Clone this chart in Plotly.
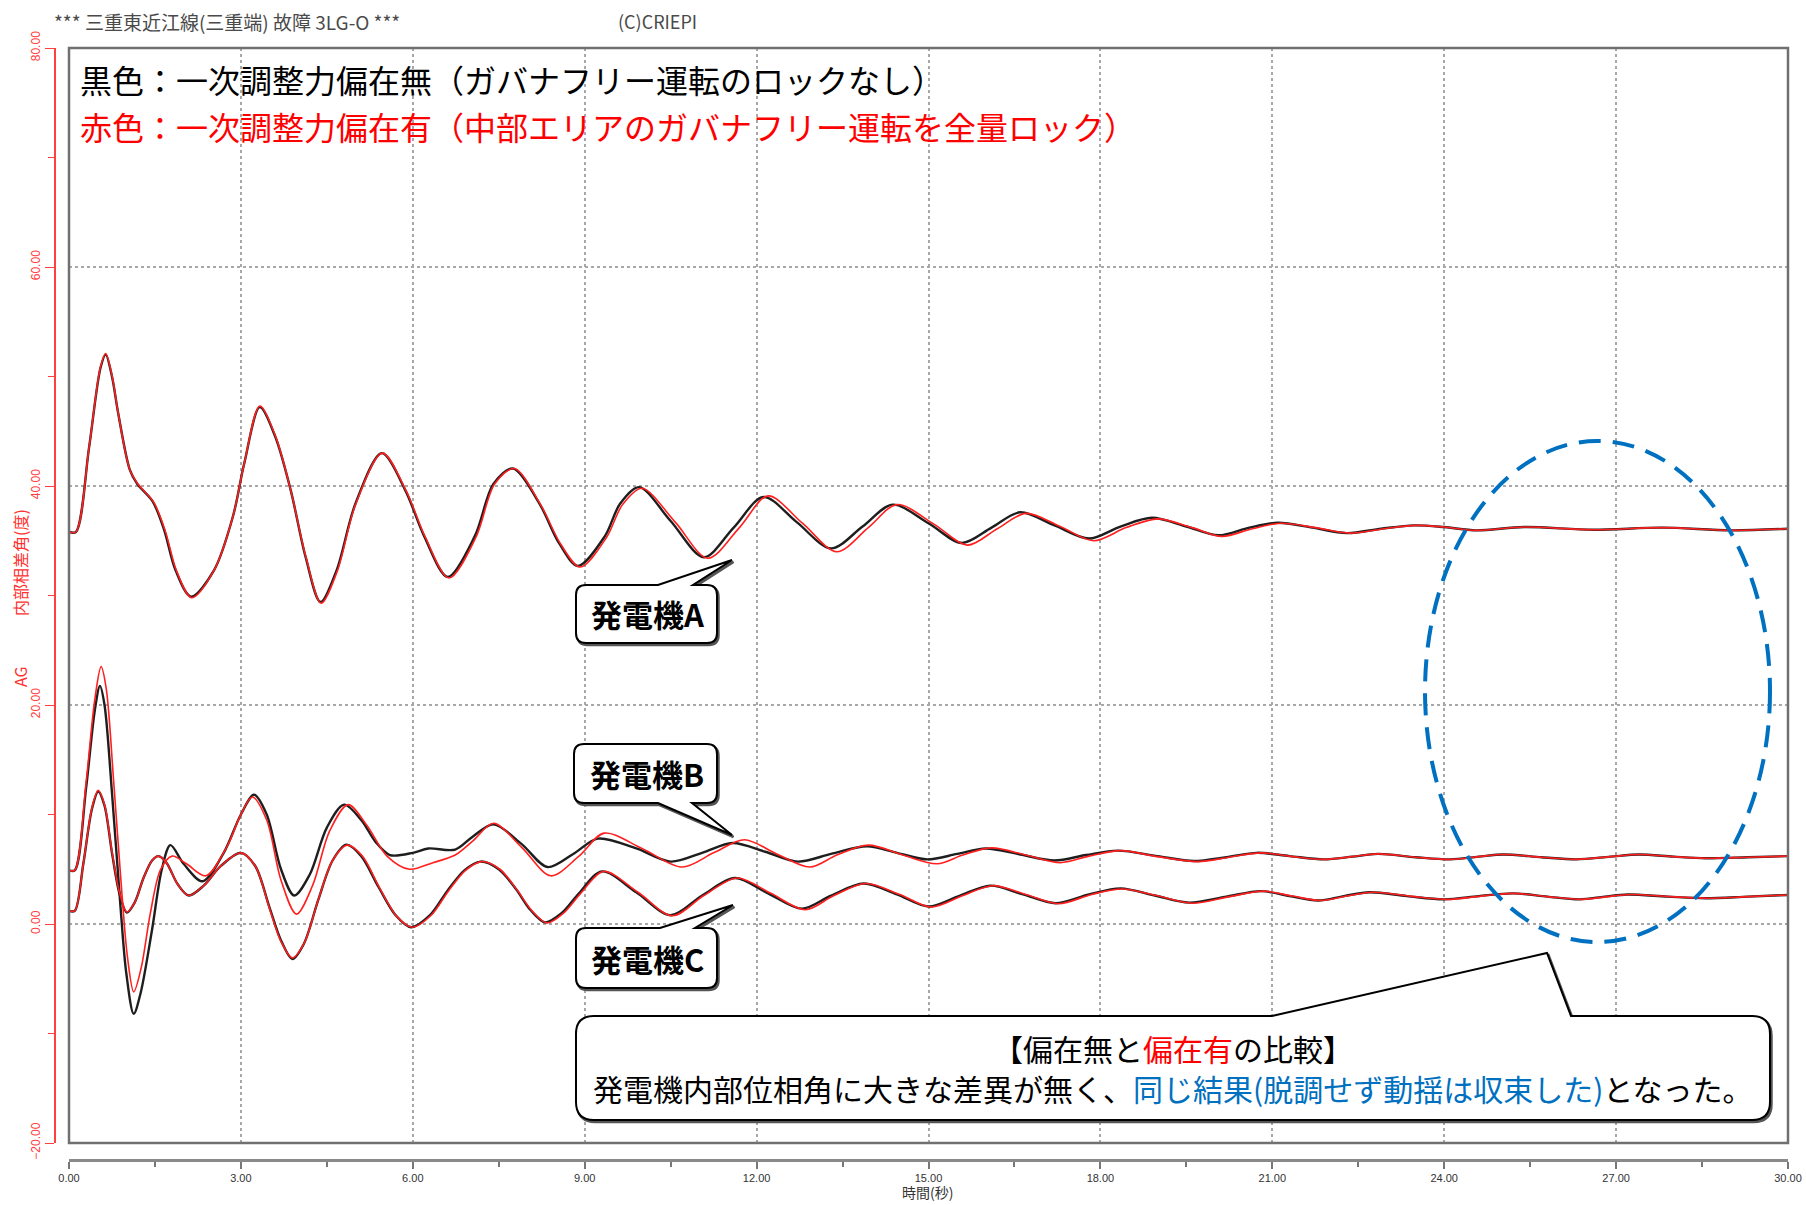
import plotly.graph_objects as go

# ---------------- data ----------------
# Generator A (black: no bias / red: with bias)
tA_black = [0, 0.12, 0.35, 0.55, 0.64, 0.75, 0.86, 1.06, 1.19, 1.46, 1.66, 1.86, 2.13, 2.53, 2.86, 3.06,
            3.33, 3.6, 3.87, 4.13, 4.39, 4.67, 5.0, 5.46, 5.87, 6.2, 6.61, 7.08, 7.41, 7.75, 8.21, 8.55,
            8.88, 9.35, 9.62, 9.95, 10.5, 11.08, 11.6, 12.12, 12.7, 13.3, 13.85, 14.37, 15.0, 15.58,
            16.1, 16.6, 17.2, 17.8, 18.35, 18.9, 19.5, 20.06, 20.6, 21.1, 21.7, 22.3, 22.9, 23.47, 24.0,
            24.56, 25.4, 26.6, 27.8, 29.0, 30.0]
vA_black = [35.8, 35.8, 43.5, 50.8, 52.0, 50.0, 46.6, 41.5, 40.2, 38.6, 36.0, 32.3, 29.9, 32.3, 37.2, 42.1,
            47.2, 44.5, 39.6, 33.5, 29.4, 32.3, 38.4, 43.0, 39.6, 35.4, 31.7, 35.4, 40.2, 41.6, 38.4, 34.8,
            32.7, 35.4, 38.4, 39.9, 36.8, 33.5, 36.2, 39.0, 36.7, 34.3, 36.3, 38.3, 36.6, 34.8,
            36.2, 37.6, 36.4, 35.2, 36.3, 37.1, 36.3, 35.5, 36.2, 36.65, 36.2, 35.7, 36.1, 36.4, 36.25,
            35.95, 36.25, 36.0, 36.2, 35.95, 36.1]

tA_red = [0, 0.12, 0.35, 0.55, 0.64, 0.75, 0.86, 1.06, 1.2, 1.48, 1.68, 1.88, 2.14, 2.53, 2.86, 3.06,
          3.33, 3.6, 3.87, 4.14, 4.4, 4.68, 5.0, 5.47, 5.88, 6.22, 6.63, 7.1, 7.43, 7.77, 8.23, 8.58,
          8.92, 9.38, 9.66, 10.0, 10.58, 11.15, 11.7, 12.2, 12.8, 13.4, 13.95, 14.45, 15.1, 15.68,
          16.2, 16.7, 17.3, 17.88, 18.45, 19.0, 19.6, 20.12, 20.65, 21.15, 21.75, 22.35, 22.95, 23.5, 24.0,
          24.56, 25.4, 26.6, 27.8, 29.0, 30.0]
vA_red = [35.8, 35.8, 43.5, 50.9, 52.1, 50.1, 46.6, 41.5, 40.2, 38.5, 35.9, 32.2, 29.8, 32.3, 37.2, 42.1,
          47.3, 44.6, 39.6, 33.4, 29.3, 32.2, 38.3, 43.0, 39.6, 35.3, 31.6, 35.3, 40.2, 41.6, 38.3, 34.7,
          32.6, 35.3, 38.3, 39.8, 36.7, 33.4, 36.2, 39.1, 36.6, 34.0, 36.2, 38.3, 36.5, 34.6,
          36.1, 37.5, 36.3, 35.0, 36.2, 37.0, 36.2, 35.4, 36.1, 36.6, 36.2, 35.7, 36.1, 36.4, 36.25,
          35.95, 36.25, 36.0, 36.2, 35.95, 36.1]

# Generator B
tB_black = [0, 0.1, 0.3, 0.45, 0.54, 0.62, 0.75, 0.9, 1.0, 1.13, 1.25, 1.45, 1.62, 1.77, 2.0, 2.33, 2.7,
            3.0, 3.23, 3.45, 3.7, 3.93, 4.2, 4.5, 4.8, 5.1, 5.35, 5.6, 6.0, 6.27, 6.74, 7.05, 7.41, 7.9,
            8.35, 8.8, 9.23, 9.9, 10.5, 11.05, 11.58, 12.15, 12.72, 13.3, 13.93, 14.45, 14.98, 15.5, 16.0,
            16.6, 17.2, 17.75, 18.3, 19.0, 19.63, 20.2, 20.73, 21.3, 21.9, 22.4, 22.84, 23.5, 24.1, 24.6,
            25.03, 25.7, 26.3, 26.9, 27.4, 28.0, 28.56, 29.3, 30.0]
vB_black = [4.9, 4.9, 12.5, 19.5, 21.75, 20.0, 12.0, 1.5, -4.5, -8.2, -6.3, -0.5, 5.0, 7.2, 5.5, 3.9, 6.5,
            10.0, 11.8, 10.0, 5.0, 2.6, 4.5, 8.8, 10.9, 9.5, 7.5, 6.3, 6.5, 6.9, 6.8, 8.0, 9.1, 7.3,
            5.2, 6.4, 7.8, 6.9, 5.7, 6.5, 7.4, 6.6, 5.7, 6.4, 7.1, 6.5, 5.9, 6.4, 6.9,
            6.35, 5.8, 6.3, 6.7, 6.2, 5.75, 6.1, 6.5, 6.2, 5.9, 6.15, 6.4, 6.1, 5.9, 6.15,
            6.35, 6.1, 5.9, 6.15, 6.35, 6.15, 6.0, 6.1, 6.2]

tB_red = [0, 0.1, 0.3, 0.45, 0.56, 0.65, 0.78, 0.92, 1.02, 1.13, 1.26, 1.42, 1.6, 1.8, 2.05, 2.39, 2.75,
          3.0, 3.2, 3.45, 3.7, 3.97, 4.25, 4.55, 4.87, 5.2, 5.55, 5.94, 6.35, 6.74, 7.05, 7.41, 7.9,
          8.41, 8.9, 9.34, 10.0, 10.7, 11.25, 11.79, 12.35, 12.93, 13.4, 13.95, 14.55, 15.15, 15.6, 16.1,
          16.7, 17.3, 17.8, 18.35, 19.0, 19.7, 20.25, 20.8, 21.3, 21.9, 22.4, 22.84, 23.5, 24.1, 24.6,
          25.03, 25.7, 26.3, 26.9, 27.4, 28.0, 28.56, 29.3, 30.0]
vB_red = [4.9, 4.9, 13.0, 20.5, 23.5, 21.5, 13.0, 3.0, -3.0, -6.2, -4.0, 1.0, 5.0, 6.2, 5.5, 4.4, 7.0,
          10.0, 11.6, 9.5, 4.0, 0.9, 3.5, 8.5, 10.9, 9.0, 6.2, 5.0, 5.6, 6.3, 7.6, 9.2, 7.0,
          4.4, 6.2, 8.3, 6.9, 5.2, 6.5, 7.7, 6.4, 5.2, 6.3, 7.2, 6.3, 5.5, 6.3, 6.95,
          6.3, 5.6, 6.2, 6.7, 6.15, 5.7, 6.1, 6.5, 6.2, 5.9, 6.15, 6.4, 6.1, 5.9, 6.15,
          6.35, 6.1, 5.9, 6.15, 6.35, 6.15, 6.0, 6.1, 6.2]

# Generator C
tC_black = [0, 0.1, 0.25, 0.4, 0.51, 0.62, 0.75, 0.88, 1.01, 1.15, 1.3, 1.45, 1.56, 1.7, 1.9, 2.09, 2.35,
            2.65, 3.0, 3.25, 3.5, 3.7, 3.9, 4.1, 4.35, 4.6, 4.84, 5.1, 5.4, 5.7, 5.97, 6.3, 6.6, 6.9,
            7.18, 7.5, 7.8, 8.05, 8.31, 8.6, 8.9, 9.3, 9.9, 10.5, 11.05, 11.62, 12.2, 12.79, 13.3, 13.87,
            14.45, 15.0, 15.55, 16.08, 16.65, 17.22, 17.8, 18.35, 18.95, 19.55, 20.2, 20.8, 21.3, 21.8,
            22.25, 22.7, 23.35, 24.0, 24.6, 25.2, 25.8, 26.36, 26.8, 27.2, 27.9, 28.56, 29.3, 30.0]
vC_black = [1.2, 1.2, 5.5, 10.5, 12.1, 10.8, 6.5, 2.8, 1.05, 2.0, 4.2, 5.8, 6.2, 5.6, 3.6, 2.6, 3.5,
            5.3, 6.5, 5.3, 1.5, -1.5, -3.2, -1.8, 2.2, 5.8, 7.25, 6.2, 3.4, 0.8, -0.3, 0.8, 3.0, 4.9,
            5.7, 5.0, 3.2, 1.3, 0.15, 1.0, 2.8, 4.8, 2.9, 0.8, 2.6, 4.2, 2.8, 1.4, 2.6, 3.7,
            2.7, 1.6, 2.6, 3.5, 2.7, 1.9, 2.7, 3.25, 2.6, 1.95, 2.5, 3.0, 2.55, 2.15,
            2.55, 2.9, 2.55, 2.25, 2.55, 2.8, 2.5, 2.25, 2.5, 2.7, 2.5, 2.35, 2.5, 2.65]

tC_red = [0, 0.1, 0.25, 0.4, 0.51, 0.62, 0.75, 0.88, 1.01, 1.15, 1.3, 1.45, 1.56, 1.7, 1.9, 2.09, 2.35,
          2.65, 3.0, 3.25, 3.5, 3.7, 3.9, 4.1, 4.35, 4.6, 4.86, 5.12, 5.42, 5.72, 5.99, 6.32, 6.62, 6.92,
          7.2, 7.52, 7.82, 8.08, 8.34, 8.63, 8.93, 9.33, 9.93, 10.53, 11.08, 11.66, 12.25, 12.85, 13.35, 13.9,
          14.5, 15.05, 15.6, 16.12, 16.7, 17.27, 17.85, 18.38, 18.98, 19.6, 20.25, 20.85, 21.35, 21.85,
          22.3, 22.75, 23.4, 24.05, 24.65, 25.2, 25.8, 26.4, 26.85, 27.25, 27.95, 28.6, 29.3, 30.0]
vC_red = [1.2, 1.2, 5.5, 10.6, 12.2, 10.9, 6.6, 2.9, 1.1, 2.0, 4.2, 5.8, 6.2, 5.6, 3.6, 2.6, 3.5,
          5.3, 6.5, 5.3, 1.4, -1.6, -3.1, -1.8, 2.2, 5.8, 7.2, 6.2, 3.3, 0.7, -0.3, 0.8, 3.0, 4.9,
          5.7, 5.0, 3.1, 1.2, 0.1, 1.0, 2.8, 4.8, 2.9, 0.75, 2.6, 4.2, 2.8, 1.3, 2.6, 3.7,
          2.7, 1.55, 2.6, 3.5, 2.7, 1.85, 2.7, 3.2, 2.6, 1.9, 2.5, 3.0, 2.55, 2.15,
          2.55, 2.9, 2.55, 2.25, 2.55, 2.8, 2.5, 2.25, 2.5, 2.7, 2.5, 2.35, 2.5, 2.65]

x_range = [0, 30]
y_range = [-20, 80]
x_tick_step = 3
y_tick_step = 20

title_text = "*** 三重東近江線(三重端) 故障 3LG-O ***"
copyright_text = "(C)CRIEPI"
legend_black = "黒色：一次調整力偏在無（ガバナフリー運転のロックなし）"
legend_red = "赤色：一次調整力偏在有（中部エリアのガバナフリー運転を全量ロック）"
gen_labels = ["発電機A", "発電機B", "発電機C"]
y_title_main = "内部相差角(度)"
y_title_sub = "AG"
x_title = "時間(秒)"

# ---------------- layout geometry (pixels) ----------------
W_FIG, H_FIG = 1806, 1205
L, R, T, B = 55, 1788, 48, 1160
PW, PH = R - L, B - T


def px(X):
    return (X - L) / PW


def py(Y):
    return (B - Y) / PH


def callout(x0, y0, x1, y1, r, side, a, b, tx, ty):
    pts = []
    pts.append(("M", x0 + r, y0))
    if side == "top":
        pts += [("L", a, y0), ("L", tx, ty), ("L", b, y0)]
    pts.append(("L", x1 - r, y0))
    pts.append(("Q", x1, y0, x1, y0 + r))
    pts.append(("L", x1, y1 - r))
    pts.append(("Q", x1, y1, x1 - r, y1))
    if side == "bottom":
        pts += [("L", b, y1), ("L", tx, ty), ("L", a, y1)]
    pts.append(("L", x0 + r, y1))
    pts.append(("Q", x0, y1, x0, y1 - r))
    pts.append(("L", x0, y0 + r))
    pts.append(("Q", x0, y0, x0 + r, y0))
    s = ""
    for p in pts:
        cmd = p[0]
        coords = p[1:]
        parts = []
        for i in range(0, len(coords), 2):
            parts.append(f"{px(coords[i]):.5f},{py(coords[i+1]):.5f}")
        s += cmd + " " + " ".join(parts) + " "
    return s + "Z"


fig = go.Figure()

BLACK = "#1e1e1e"
RED = "#ff1f1f"

for t, v in [(tA_black, vA_black), (tB_black, vB_black), (tC_black, vC_black)]:
    fig.add_trace(go.Scatter(x=t, y=v, mode="lines", line=dict(color=BLACK, width=2.4, shape="spline", smoothing=0.9),
                             hoverinfo="skip"))
for t, v in [(tA_red, vA_red), (tB_red, vB_red), (tC_red, vC_red)]:
    fig.add_trace(go.Scatter(x=t, y=v, mode="lines", line=dict(color=RED, width=1.6, shape="spline", smoothing=0.9),
                             hoverinfo="skip"))

shapes = []
# plot frame
shapes.append(dict(type="rect", xref="x domain", yref="y domain", x0=0, x1=1, y0=0, y1=1,
                   line=dict(color="#707070", width=2.5), layer="above"))

# generator callouts
box_specs = [
    (576, 585, 717, 643, "top", 658, 693, 732, 560),
    (574, 744, 717, 803, "bottom", 658, 692, 732, 835),
    (576, 928, 717, 988, "top", 660, 695, 733, 905),
]
for (x0, y0, x1, y1, side, a, b, tx, ty) in box_specs:
    shapes.append(dict(type="path", xref="paper", yref="paper",
                       path=callout(x0 + 1.5, y0 + 2, x1 + 1.5, y1 + 2, 10, side, a + 1.5, b + 1.5, tx + 1.5, ty + 2),
                       line=dict(color="#555555", width=2.5), fillcolor="#555555", layer="above"))
    shapes.append(dict(type="path", xref="paper", yref="paper",
                       path=callout(x0, y0, x1, y1, 10, side, a, b, tx, ty),
                       line=dict(color="#000000", width=2), fillcolor="white", layer="above"))

# summary callout
shapes.append(dict(type="path", xref="paper", yref="paper",
                   path=callout(577.5, 1018, 1771.5, 1122, 18, "top", 1273.5, 1572.5, 1548.5, 955),
                   line=dict(color="#555555", width=2.5), fillcolor="#555555", layer="above"))
shapes.append(dict(type="path", xref="paper", yref="paper",
                   path=callout(576, 1016, 1770, 1120, 18, "top", 1272, 1571, 1547, 953),
                   line=dict(color="#000000", width=2), fillcolor="white", layer="above"))

# dashed ellipse
shapes.append(dict(type="circle", xref="paper", yref="paper",
                   x0=px(1425), x1=px(1770), y0=py(942), y1=py(441),
                   line=dict(color="#0070C0", width=4, dash="22px,12px"), layer="above"))

CJK = "Noto Sans CJK JP"
annotations = []
annotations.append(dict(xref="paper", yref="paper", x=px(52), y=py(21), xanchor="left", yanchor="middle",
                        text=title_text, showarrow=False, font=dict(family=CJK, size=19, color="#4a4a4a")))
annotations.append(dict(xref="paper", yref="paper", x=px(616), y=py(21), xanchor="left", yanchor="middle",
                        text=copyright_text, showarrow=False, font=dict(family=CJK, size=18, color="#4a4a4a")))
annotations.append(dict(xref="paper", yref="paper", x=px(79), y=py(79), xanchor="left", yanchor="middle",
                        text=legend_black, showarrow=False, borderpad=0,
                        font=dict(family=CJK, size=32, color="#000000")))
annotations.append(dict(xref="paper", yref="paper", x=px(79), y=py(126), xanchor="left", yanchor="middle",
                        text=legend_red, showarrow=False, borderpad=0,
                        font=dict(family=CJK, size=32, color="#ff0000")))

for lab, (x0, y0, x1, y1, *_rest) in zip(gen_labels, box_specs):
    annotations.append(dict(xref="paper", yref="paper", x=px((x0 + x1) / 2 + 1), y=py((y0 + y1) / 2),
                            xanchor="center", yanchor="middle", text="<b>" + lab + "</b>", showarrow=False,
                            font=dict(family=CJK, size=31, color="#000000")))

annotations.append(dict(xref="paper", yref="paper", x=px(1173), y=py(1048), xanchor="center", yanchor="middle",
                        text="【偏在無と<span style='color:#ff0000'>偏在有</span>の比較】", showarrow=False,
                        font=dict(family=CJK, size=30, color="#000000")))
annotations.append(dict(xref="paper", yref="paper", x=px(1172), y=py(1088), xanchor="center", yanchor="middle",
                        text="発電機内部位相角に大きな差異が無く、<span style='color:#0070C0'>同じ結果(脱調せず動揺は収束した)</span>となった。",
                        showarrow=False, font=dict(family=CJK, size=30, color="#000000")))

annotations.append(dict(xref="paper", yref="paper", x=px(20), y=py(563), xanchor="center", yanchor="middle",
                        text=y_title_main, textangle=-90, showarrow=False,
                        font=dict(family=CJK, size=16, color="#ff3030")))
annotations.append(dict(xref="paper", yref="paper", x=px(20), y=py(677), xanchor="center", yanchor="middle",
                        text=y_title_sub, textangle=-90, showarrow=False,
                        font=dict(family=CJK, size=16, color="#ff3030")))
annotations.append(dict(xref="paper", yref="paper", x=px(927), y=py(1192), xanchor="center", yanchor="middle",
                        text=x_title, showarrow=False, font=dict(family=CJK, size=14, color="#333333")))

fig.update_layout(
    width=W_FIG, height=H_FIG,
    margin=dict(l=L, r=W_FIG - R, t=T, b=H_FIG - B, pad=0, autoexpand=False),
    paper_bgcolor="white", plot_bgcolor="white",
    showlegend=False,
    shapes=shapes, annotations=annotations,
    xaxis=dict(range=x_range, domain=[px(69), 1], anchor="free", position=0, automargin=False,
               tick0=0, dtick=x_tick_step, tickformat=".2f",
               showline=True, linecolor="#8a8a8a", linewidth=3,
               ticks="outside", ticklen=7, tickcolor="#777777", tickwidth=1.5,
               minor=dict(dtick=x_tick_step / 2, ticks="outside", ticklen=5, tickcolor="#777777", showgrid=False),
               tickfont=dict(family="Liberation Sans", size=11, color="#333333"),
               showgrid=True, gridcolor="#a8a8a8", gridwidth=1.5, griddash="dot", zeroline=False),
    yaxis=dict(range=y_range, domain=[py(1143), 1], anchor="free", position=0, automargin=False,
               tick0=0, dtick=y_tick_step, tickformat=".2f", tickangle=-90,
               showline=True, linecolor="#ff4040", linewidth=1.5,
               ticks="outside", ticklen=9, tickcolor="#ff4040", tickwidth=1.2,
               minor=dict(dtick=y_tick_step / 2, ticks="outside", ticklen=6, tickcolor="#ff4040", showgrid=False),
               tickfont=dict(family="Liberation Sans", size=12, color="#ff4040"),
               showgrid=True, gridcolor="#a8a8a8", gridwidth=1.5, griddash="dot", zeroline=False),
)

fig.write_html("out.html")
